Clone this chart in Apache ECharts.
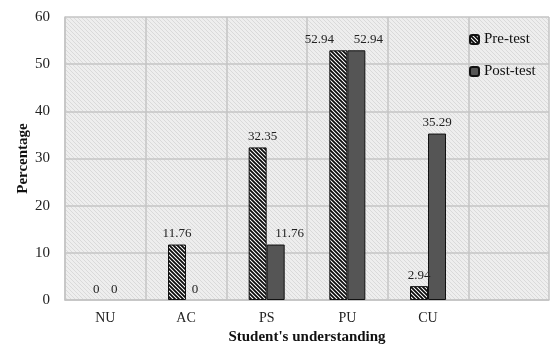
<!DOCTYPE html>
<html>
<head>
<meta charset="utf-8">
<script src="https://cdn.jsdelivr.net/npm/echarts@6/dist/echarts.min.js"></script>
<style>
  html, body { margin: 0; padding: 0; background: #fff; }
  #main { width: 551px; height: 345px; }
</style>
</head>
<body>
<div id="main"></div>
<script>
// categories and values
var categories = ['NU', 'AC', 'PS', 'PU', 'CU', ''];
var preTest = [0, 11.76, 32.35, 52.94, 2.94, '-'];
var postTest = [0, 0, 11.76, 52.94, 35.29, '-'];
var yTicks = [0, 10, 20, 30, 40, 50, 60];

var serif = '"Liberation Serif", "DejaVu Serif", serif';

// labels nudged sideways in the original so they do not collide
var preShift = { 2: 5, 3: -19 };
var postShift = { 2: 14, 3: 12 };

// hatch pattern for the pre-test bars
function makeHatch() {
    var c = document.createElement('canvas');
    c.width = 4; c.height = 4;
    var ctx = c.getContext('2d');
    ctx.fillStyle = '#ffffff';
    ctx.fillRect(0, 0, 4, 4);
    ctx.strokeStyle = '#0a0a0a';
    ctx.lineWidth = 1.8;
    ctx.beginPath();
    ctx.moveTo(0, 0); ctx.lineTo(4, 4);
    ctx.moveTo(-2, 2); ctx.lineTo(2, 6);
    ctx.moveTo(2, -2); ctx.lineTo(6, 2);
    ctx.stroke();
    return c;
}
// light textured background of the plot area
function makeBg() {
    var c = document.createElement('canvas');
    c.width = 4; c.height = 4;
    var ctx = c.getContext('2d');
    ctx.fillStyle = '#eeeeee';
    ctx.fillRect(0, 0, 4, 4);
    ctx.strokeStyle = '#d4d4d4';
    ctx.lineWidth = 0.8;
    ctx.beginPath();
    ctx.moveTo(0, 0); ctx.lineTo(4, 4);
    ctx.moveTo(-2, 2); ctx.lineTo(2, 6);
    ctx.moveTo(2, -2); ctx.lineTo(6, 2);
    ctx.stroke();
    return c;
}

// zero bars have no visible outline; some labels shifted
function toItems(arr, shift) {
    return arr.map(function (v, i) {
        var item = { value: v };
        if (v === 0) item.itemStyle = { borderWidth: 0 };
        if (shift[i] !== undefined) item.label = { offset: [shift[i], 0] };
        return item;
    });
}

var myChart = echarts.init(document.getElementById('main'));
var option = {
    animation: false,
    textStyle: { fontFamily: serif },
    grid: {
        left: 65, right: 2, top: 17, bottom: 45,
        outerBoundsMode: 'none',
        containLabel: false,
        show: true,
        borderWidth: 0,
        backgroundColor: { image: makeBg(), repeat: 'repeat' }
    },
    legend: {
        orient: 'vertical',
        left: 464, top: 27,
        itemWidth: 9, itemHeight: 9,
        itemGap: 17,
        textStyle: { fontFamily: serif, fontSize: 15, color: '#111' },
        data: ['Pre-test', 'Post-test']
    },
    xAxis: {
        type: 'category',
        data: categories,
        name: "Student's understanding",
        nameLocation: 'middle',
        nameGap: 30,
        nameMoveOverlap: false,
        nameTextStyle: { fontFamily: serif, fontWeight: 'bold', fontSize: 15, color: '#111' },
        axisTick: { show: false },
        axisLine: { lineStyle: { color: '#c4c4c4', width: 1.5 } },
        axisLabel: { fontFamily: serif, fontSize: 14, color: '#222', margin: 11 },
        splitLine: { show: true, lineStyle: { color: '#c4c4c4', width: 1.5 } }
    },
    yAxis: {
        type: 'value',
        min: 0, max: 60, interval: 10,
        name: 'Percentage',
        nameLocation: 'middle',
        nameGap: 34,
        nameMoveOverlap: false,
        nameTextStyle: { fontFamily: serif, fontWeight: 'bold', fontSize: 15, color: '#111' },
        axisLine: { show: true, lineStyle: { color: '#c4c4c4', width: 1.5 } },
        axisTick: { show: false },
        axisLabel: {
            fontFamily: serif, fontSize: 15, color: '#222', margin: 15,
            formatter: function (v) { return yTicks.indexOf(v) >= 0 ? String(v) : ''; }
        },
        splitLine: { lineStyle: { color: '#c4c4c4', width: 1.5 } }
    },
    series: [
        {
            name: 'Pre-test',
            type: 'bar',
            barWidth: 18,
            barGap: '0%',
            data: toItems(preTest, preShift),
            itemStyle: {
                color: { image: makeHatch(), repeat: 'repeat' },
                borderColor: '#111',
                borderWidth: 1
            },
            label: {
                show: true, position: 'top', distance: 4,
                fontFamily: serif, fontSize: 13, color: '#222'
            }
        },
        {
            name: 'Post-test',
            type: 'bar',
            barWidth: 18,
            data: toItems(postTest, postShift),
            itemStyle: {
                color: '#555555',
                borderColor: '#111',
                borderWidth: 1
            },
            label: {
                show: true, position: 'top', distance: 4,
                fontFamily: serif, fontSize: 13, color: '#222'
            }
        }
    ]
};
myChart.setOption(option);
window.addEventListener('resize', function () {
    myChart.resize();
});
</script>
</body>
</html>
